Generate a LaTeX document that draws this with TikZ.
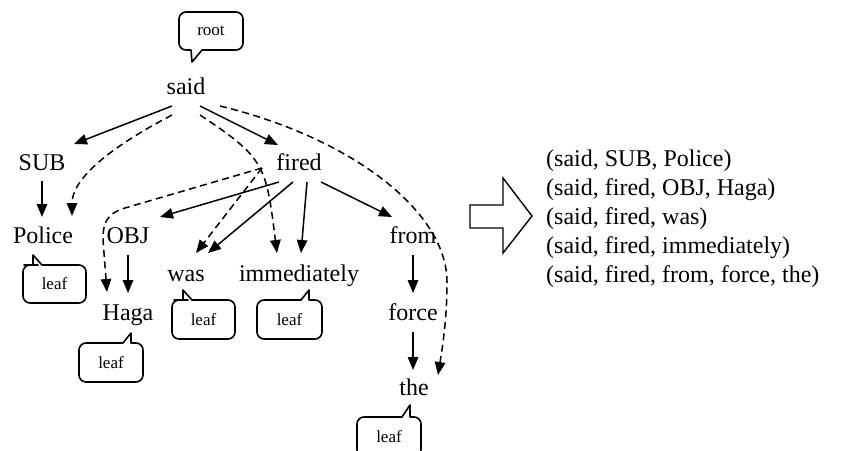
\documentclass[tikz,border=0pt]{standalone}
\usepackage{fontspec}
\setmainfont{Liberation Serif}
\usetikzlibrary{arrows.meta}
\begin{document}
\begin{tikzpicture}[x=1pt,y=-1pt,
  word/.style={font=\fontsize{24}{29}\selectfont, inner sep=0pt, anchor=base},
  lbl/.style={font=\fontsize{17}{20}\selectfont, inner sep=0pt},
  bub/.style={line width=1.6pt, line cap=round, line join=round},
  edge/.style={line width=1.5pt, -{Triangle[length=13pt,width=10.5pt]}},
  dedge/.style={edge, dash pattern=on 7pt off 4.5pt},
  bigarrow/.style={line width=1.4pt, line join=miter},
]
\useasboundingbox (0,0) rectangle (842,450);

% words
\node[word] (said) at (186,94) {said};
\node[word] (SUB) at (42,170) {SUB};
\node[word] (fired) at (299,170) {fired};
\node[word] (Police) at (43,243) {Police};
\node[word] (OBJ) at (128,243) {OBJ};
\node[word] (from) at (413,243) {from};
\node[word] (was) at (186,281) {was};
\node[word] (imm) at (299,281) {immediately};
\node[word] (Haga) at (128,320) {Haga};
\node[word] (force) at (413,320) {force};
\node[word] (the) at (414,395) {the};

% bubbles
\draw[bub] (202,50) -- (192,62) -- (191,50) -- (188,50) [rounded corners=7pt] -- (179,50) -- (179,12) -- (243,12) -- (243,50) -- (209,50) [sharp corners] -- (202,50);
\node[lbl] (rootlbl) at (211,31) {root};

\draw[bub] (33,265) -- (33,255) -- (42,265) -- (50,265) [rounded corners=7pt] -- (86,265) -- (86,303) -- (23,303) -- (23,265) -- (31,265) [sharp corners] -- (33,265);
\node[lbl] (leafPolice) at (54.5,284) {leaf};

\draw[bub] (183,300) -- (183,290) -- (192,300) -- (200,300) [rounded corners=7pt] -- (235,300) -- (235,339) -- (172,339) -- (172,300) -- (181,300) [sharp corners] -- (183,300);
\node[lbl] (leafWas) at (203.5,319.5) {leaf};

\draw[bub] (301,300) -- (309,290) -- (309,300) -- (314,300) [rounded corners=7pt] -- (322,300) -- (322,339) -- (257,339) -- (257,300) -- (292,300) [sharp corners] -- (301,300);
\node[lbl] (leafImm) at (289.5,319.5) {leaf};

\draw[bub] (123,343) -- (131,333) -- (131,343) -- (135,343) [rounded corners=7pt] -- (143,343) -- (143,382) -- (79,382) -- (79,343) -- (114,343) [sharp corners] -- (123,343);
\node[lbl] (leafHaga) at (111,362.5) {leaf};

\draw[bub] (402,417) -- (410,405) -- (410,417) -- (413,417) [rounded corners=7pt] -- (421,417) -- (421,456) -- (357,456) -- (357,417) -- (393,417) [sharp corners] -- (402,417);
\node[lbl] (leafThe) at (389,436.5) {leaf};

% solid edges
\draw[edge] ([shift={(-14,12)}]said.base) -- ([shift={(32,-26)}]SUB.base);
\draw[edge] ([shift={(14,12)}]said.base) -- ([shift={(-21,-25)}]fired.base);
\draw[edge] ([shift={(0,11)}]SUB.base) -- ([shift={(-1,-26)}]Police.base);
\draw[edge] ([shift={(-20,12)}]fired.base) -- ([shift={(32,-26)}]OBJ.base);
\draw[edge] ([shift={(-6,12)}]fired.base) -- ([shift={(22,-28)}]was.base);
\draw[edge] ([shift={(8,12)}]fired.base) -- ([shift={(2,-28)}]imm.base);
\draw[edge] ([shift={(22,12)}]fired.base) -- ([shift={(-21,-26)}]from.base);
\draw[edge] ([shift={(0,12)}]OBJ.base) -- ([shift={(0,-27)}]Haga.base);
\draw[edge] ([shift={(0,12)}]from.base) -- ([shift={(0,-27)}]force.base);
\draw[edge] ([shift={(0,12)}]force.base) -- ([shift={(-1,-25)}]the.base);

% dashed paths
\draw[dedge] ([shift={(-14,21)}]said.base) .. controls (122,141) and (72,175) .. ([shift={(29,-27)}]Police.base);
\draw[dedge] ([shift={(14,21)}]said.base) .. controls (265,158) and (266,165) .. ([shift={(-22,-28)}]imm.base);
\draw[dedge] ([shift={(34,12)}]said.base) .. controls (352,138) and (448,212) .. (447,283) .. controls (447,320) and (442,350) .. ([shift={(24,-20)}]the.base);
\draw[dedge] ([shift={(-37,-2)}]fired.base) -- (125,208) .. controls (105,214) and (103,225) .. (103,240) -- ([shift={(-21,-28)}]Haga.base);
\draw[dedge] ([shift={(-37,-2)}]fired.base) -- ([shift={(10,-28)}]was.base);

% big arrow
\draw[bigarrow] (470,205) -- (503,205) -- (503,178) -- (532,216) -- (503,253) -- (503,228) -- (470,228) -- cycle;

% list
\node[word, anchor=base west] (l1) at (546,166) {(said, SUB, Police)};
\node[word, anchor=base west] (l2) at (546,195) {(said, fired, OBJ, Haga)};
\node[word, anchor=base west] (l3) at (546,224) {(said, fired, was)};
\node[word, anchor=base west] (l4) at (546,253) {(said, fired, immediately)};
\node[word, anchor=base west] (l5) at (546,282) {(said, fired, from, force, the)};
\end{tikzpicture}
\end{document}
